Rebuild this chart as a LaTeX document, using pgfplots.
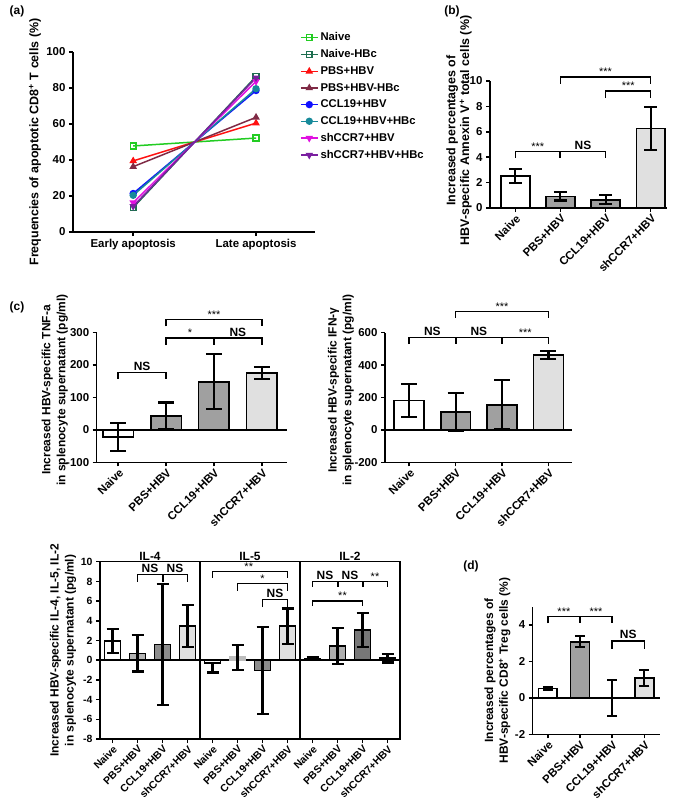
\documentclass[border=0pt]{standalone}
\usepackage{fontspec}
\setmainfont{Liberation Sans}
\usepackage{pgfplots}
\pgfplotsset{compat=1.18}
\definecolor{cNaive}{HTML}{22CC22}
\definecolor{cNaiveB}{HTML}{1E6E50}
\definecolor{cPBS}{HTML}{FF1010}
\definecolor{cPBSB}{HTML}{7F2A45}
\definecolor{cCCL}{HTML}{1010FF}
\definecolor{cCCLB}{HTML}{178A9A}
\definecolor{cSH}{HTML}{E010E0}
\definecolor{cSHB}{HTML}{7A1FA0}
\definecolor{gA}{HTML}{A0A0A0}
\definecolor{gB}{HTML}{8C8C8C}
\definecolor{gL}{HTML}{E0E0E0}
\pgfplotsset{
  gp/.style={scale only axis, axis x line*=bottom, axis y line*=left,
    axis line style={line width=1.5bp,-}, tick style={line width=1.5bp,black},
    tick align=outside, major tick length=4bp, minor tick num=0,
    tick label style={font=\bfseries\fontsize{11.5}{13}\selectfont},
    /pgf/number format/assume math mode=true, clip=false,
    ylabel style={font=\bfseries\fontsize{12}{15}\selectfont, align=center, anchor=center}},
  gpbars/.style={xtick={0,1,2,3}, xticklabels={Naive,PBS+HBV,CCL19+HBV,shCCR7+HBV},
    xticklabel style={rotate=45, anchor=north east, inner sep=1bp}},
  gpbar/.style 2 args={ybar, bar shift=0pt, bar width=#1, draw=black, line width=1.6bp,
    /pgfplots/error bars/y dir=both, /pgfplots/error bars/y explicit,
    /pgfplots/error bars/error bar style={line width=2.1bp, black},
    /pgfplots/error bars/error mark options={rotate=90, line width=2.1bp, black, mark size=#2}},
  aline/.style={line width=1.5bp, mark size=2.9bp}
}
\newcommand{\brk}[4]{\draw[line width=1.5bp] (axis cs:#1,#4) -- (axis cs:#1,#3) -- (axis cs:#2,#3) -- (axis cs:#2,#4);}
\newcommand{\tck}[3]{\draw[line width=2bp] (axis cs:#1,#2) -- (axis cs:#1,#3);}
\newcommand{\ns}[2]{\node[font=\bfseries\fontsize{12}{13}\selectfont, anchor=south, inner sep=1.5bp] at (axis cs:#1,#2) {NS};}
\newcommand{\st}[3]{\node[font=\fontsize{11}{12}\selectfont, anchor=south, inner sep=1bp] at (axis cs:#1,#2) {#3};}
\begin{document}
\begin{tikzpicture}
\path[use as bounding box] (0,0) rectangle (676bp,-811bp);
\node[font=\bfseries\fontsize{12}{14}\selectfont] at (17bp,-11bp) {(a)};
\node[font=\bfseries\fontsize{12}{14}\selectfont] at (452bp,-11bp) {(b)};
\node[font=\bfseries\fontsize{12}{14}\selectfont] at (17bp,-307bp) {(c)};
\node[font=\bfseries\fontsize{12}{14}\selectfont] at (471bp,-566bp) {(d)};

% ---------------- (a)
\begin{axis}[gp, at={(73bp,-232bp)}, anchor=south west, width=242bp, height=180bp,
  xmin=-0.49, xmax=1.48, ymin=0, ymax=100, xtick={0,1},
  xticklabels={Early apoptosis,Late apoptosis}, ytick={0,20,...,100},
  ylabel={Frequencies of apoptotic CD8\textsuperscript{+} T cells (\%)},
  ylabel style={at={(axis description cs:-0.157,0.5)}, font=\bfseries\fontsize{12.5}{15}\selectfont},
  legend style={at={(axis description cs:0.925,1.13)}, anchor=north west, draw=none, fill=none,
    font=\bfseries\fontsize{11.3}{13}\selectfont, row sep=3.3bp},
  legend cell align=left]
\addplot[aline, color=cNaive, mark=square] coordinates {(0,47.8) (1,52.2)};
\addlegendentry{Naive}
\addplot[aline, color=cNaiveB, mark=square] coordinates {(0,13.6) (1,86.4)};
\addlegendentry{Naive-HBc}
\addplot[aline, color=cPBS, mark=triangle*] coordinates {(0,39.5) (1,60.5)};
\addlegendentry{PBS+HBV}
\addplot[aline, color=cPBSB, mark=triangle*] coordinates {(0,36.3) (1,63.7)};
\addlegendentry{PBS+HBV-HBc}
\addplot[aline, color=cCCL, mark=*] coordinates {(0,21.4) (1,78.6)};
\addlegendentry{CCL19+HBV}
\addplot[aline, color=cCCLB, mark=*] coordinates {(0,20.4) (1,79.6)};
\addlegendentry{CCL19+HBV+HBc}
\addplot[aline, color=cSH, mark=triangle*, every mark/.append style={rotate=180}] coordinates {(0,16.3) (1,83.7)};
\addlegendentry{shCCR7+HBV}
\addplot[aline, color=cSHB, mark=triangle*, every mark/.append style={rotate=180}] coordinates {(0,14.3) (1,85.7)};
\addlegendentry{shCCR7+HBV+HBc}
\end{axis}

% ---------------- (b)
\begin{axis}[gp, gpbars, at={(490bp,-208bp)}, anchor=south west, width=177bp, height=127bp,
  xmin=-0.56, xmax=3.36, ymin=0, ymax=10, ytick={0,2,...,10},
  ylabel={Increased percentages of\\HBV-specific Annexin V\textsuperscript{+} total cells (\%)},
  ylabel style={at={(axis description cs:-0.175,0.61)}, font=\bfseries\fontsize{12.5}{14}\selectfont}]
\addplot[gpbar={0.64}{6.5bp}, fill=white] coordinates {(0,2.52) +- (0,0.53)};
\addplot[gpbar={0.64}{6.5bp}, fill=gA] coordinates {(1,0.92) +- (0,0.33)};
\addplot[gpbar={0.64}{6.5bp}, fill=gA] coordinates {(2,0.65) +- (0,0.35)};
\addplot[gpbar={0.64}{6.5bp}, fill=gL] coordinates {(3,6.27) +- (0,1.68)};
\brk{0}{2}{4.45}{3.95}\tck{1}{4.45}{3.95}
\st{0.5}{4.45}{***}\ns{1.5}{4.45}
\brk{1}{3}{10.3}{9.8}\st{2}{10.3}{***}
\brk{2}{3}{9.2}{8.65}\st{2.5}{9.2}{***}
\end{axis}

% ---------------- (c) TNF
\begin{axis}[gp, gpbars, at={(96.7bp,-462.3bp)}, anchor=south west, width=190bp, height=130bp,
  xmin=-0.45, xmax=3.52, ymin=-100, ymax=300, ytick={-100,0,...,300},
  ylabel={Increased HBV-specific TNF-a\\in splenocyte supernatant (pg/ml)},
  ylabel style={at={(axis description cs:-0.22,0.556)}}]
\draw[line width=1.5bp] (axis cs:-0.45,0) -- (axis cs:3.52,0);
\addplot[gpbar={0.64}{8bp}, fill=white] coordinates {(0,-22) +- (0,42)};
\addplot[gpbar={0.64}{8bp}, fill=gA] coordinates {(1,43) +- (0,41)};
\addplot[gpbar={0.64}{8bp}, fill=gA] coordinates {(2,148) +- (0,85)};
\addplot[gpbar={0.64}{8bp}, fill=gL] coordinates {(3,174) +- (0,19)};
\brk{0}{1}{177}{157}\ns{0.5}{177}
\brk{1}{3}{282}{262}\tck{2}{282}{262}\st{1.5}{282}{*}\ns{2.5}{282}
\brk{1}{3}{340}{318}\st{2}{340}{***}
\end{axis}

% ---------------- (c) IFN
\begin{axis}[gp, gpbars, at={(385bp,-462.3bp)}, anchor=south west, width=186.7bp, height=129.6bp,
  xmin=-0.52, xmax=3.5, ymin=-200, ymax=600, ytick={-200,0,...,600},
  ylabel={Increased HBV-specific IFN-γ\\in splenocyte supernatant (pg/ml)},
  ylabel style={at={(axis description cs:-0.236,0.556)}}]
\draw[line width=1.5bp] (axis cs:-0.52,0) -- (axis cs:3.5,0);
\addplot[gpbar={0.64}{8bp}, fill=white] coordinates {(0,182) +- (0,100)};
\addplot[gpbar={0.64}{8bp}, fill=gA] coordinates {(1,110) +- (0,116)};
\addplot[gpbar={0.64}{8bp}, fill=gA] coordinates {(2,155) +- (0,151)};
\addplot[gpbar={0.64}{8bp}, fill=gL] coordinates {(3,462) +- (0,23)};
\brk{0}{3}{570}{530}\tck{1}{570}{530}\tck{2}{570}{530}
\ns{0.5}{570}\ns{1.5}{570}\st{2.5}{570}{***}
\brk{1}{3}{732}{693}\st{2}{732}{***}
\end{axis}

% ---------------- (c) IL-4, IL-5, IL-2
\begin{axis}[gp, axis x line*=box, axis y line*=box, xtick pos=left, ytick pos=left,
  at={(100bp,-739bp)}, anchor=south west, width=300bp, height=177.3bp,
  xmin=-0.5, xmax=11.5, ymin=-8, ymax=10, ytick={-8,-6,...,10},
  xtick={0,...,11},
  xticklabels={Naive,PBS+HBV,CCL19+HBV,shCCR7+HBV,Naive,PBS+HBV,CCL19+HBV,shCCR7+HBV,Naive,PBS+HBV,CCL19+HBV,shCCR7+HBV},
  xticklabel style={rotate=45, anchor=north east, inner sep=1bp},
  tick label style={font=\bfseries\fontsize{10.5}{12}\selectfont},
  ylabel={Increased HBV-specific IL-4, IL-5, IL-2\\in splenocyte supernatant (pg/ml)},
  ylabel style={at={(axis description cs:-0.123,0.5)}, font=\bfseries\fontsize{12}{15}\selectfont, align=center, anchor=center}]
\draw[line width=1.5bp] (axis cs:-0.5,0) -- (axis cs:11.5,0);
\draw[line width=1.5bp] (axis cs:3.5,-8) -- (axis cs:3.5,10);
\draw[line width=1.5bp] (axis cs:7.5,-8) -- (axis cs:7.5,10);
\addplot[gpbar={0.64}{6bp}, fill=white] coordinates {(0,1.95) +- (0,1.2)};
\addplot[gpbar={0.64}{6bp}, fill=gA!80] coordinates {(1,0.7) +- (0,1.85)};
\addplot[gpbar={0.64}{6bp}, fill=gB] coordinates {(2,1.6) +- (0,6.15)};
\addplot[gpbar={0.64}{6bp}, fill=gL] coordinates {(3,3.5) +- (0,2.15)};
\addplot[gpbar={0.64}{6bp}, fill=white] coordinates {(4,-0.3) += (0,0) -= (0,0.95)};
\addplot[gpbar={0.64}{6bp}, fill=gA!70, draw=gA!70] coordinates {(5,0.3) +- (0,1.25)};
\addplot[gpbar={0.64}{6bp}, fill=gB] coordinates {(6,-1.05) +- (0,4.4)};
\addplot[gpbar={0.64}{6bp}, fill=gL] coordinates {(7,3.45) +- (0,1.8)};
\addplot[gpbar={0.64}{6bp}, fill=white] coordinates {(8,0.15) +- (0,0.15)};
\addplot[gpbar={0.64}{6bp}, fill=gA!85] coordinates {(9,1.45) +- (0,1.8)};
\addplot[gpbar={0.64}{6bp}, fill=gB!85!black] coordinates {(10,3.07) +- (0,1.72)};
\addplot[gpbar={0.64}{6bp}, fill=gL] coordinates {(11,0.22) +- (0,0.45)};
\node[font=\bfseries\fontsize{12}{13}\selectfont, anchor=south, inner sep=1bp] at (axis cs:1.5,10) {IL-4};
\node[font=\bfseries\fontsize{12}{13}\selectfont, anchor=south, inner sep=1bp] at (axis cs:5.5,10) {IL-5};
\node[font=\bfseries\fontsize{12}{13}\selectfont, anchor=south, inner sep=1bp] at (axis cs:9.5,10) {IL-2};
\brk{1}{3}{8.7}{7.95}\tck{2}{8.7}{7.95}\ns{1.5}{8.7}\ns{2.5}{8.7}
\brk{4}{7}{9.03}{8.36}\st{5.45}{9.03}{**}
\brk{5}{7}{7.78}{7.04}\st{6}{7.78}{*}
\brk{6}{7}{6.16}{5.4}\ns{6.5}{6.16}
\brk{8}{11}{8.0}{7.45}\tck{9}{8.0}{7.45}\tck{10}{8.0}{7.45}
\ns{8.5}{8.0}\ns{9.5}{8.0}\st{10.5}{8.0}{**}
\brk{8}{10}{6.0}{5.5}\st{9.2}{6.0}{**}
\end{axis}

% ---------------- (d)
\begin{axis}[gp, gpbars, at={(532.7bp,-734.3bp)}, anchor=south west, width=127.3bp, height=127.6bp,
  xmin=-0.47, xmax=3.49, ymin=-2, ymax=5, ytick={-2,0,2,4},
  ylabel={Increased percentages of\\HBV-specific CD8\textsuperscript{+} Treg cells (\%)},
  ylabel style={at={(axis description cs:-0.277,0.5)}}]
\draw[line width=1.5bp] (axis cs:-0.47,0) -- (axis cs:3.49,0);
\addplot[gpbar={0.59}{5bp}, fill=white] coordinates {(0,0.52) +- (0,0.1)};
\addplot[gpbar={0.59}{5bp}, fill=gA] coordinates {(1,3.08) +- (0,0.3)};
\addplot[gpbar={0.59}{5bp}, fill=gA] coordinates {(2,0) +- (0,0.98)};
\addplot[gpbar={0.59}{5bp}, fill=gL] coordinates {(3,1.08) +- (0,0.45)};
\brk{0}{2}{4.46}{4.09}\tck{1}{4.46}{4.09}\st{0.5}{4.46}{***}\st{1.5}{4.46}{***}
\brk{2}{3}{3.13}{2.69}\ns{2.5}{3.13}
\end{axis}
\end{tikzpicture}
\end{document}
